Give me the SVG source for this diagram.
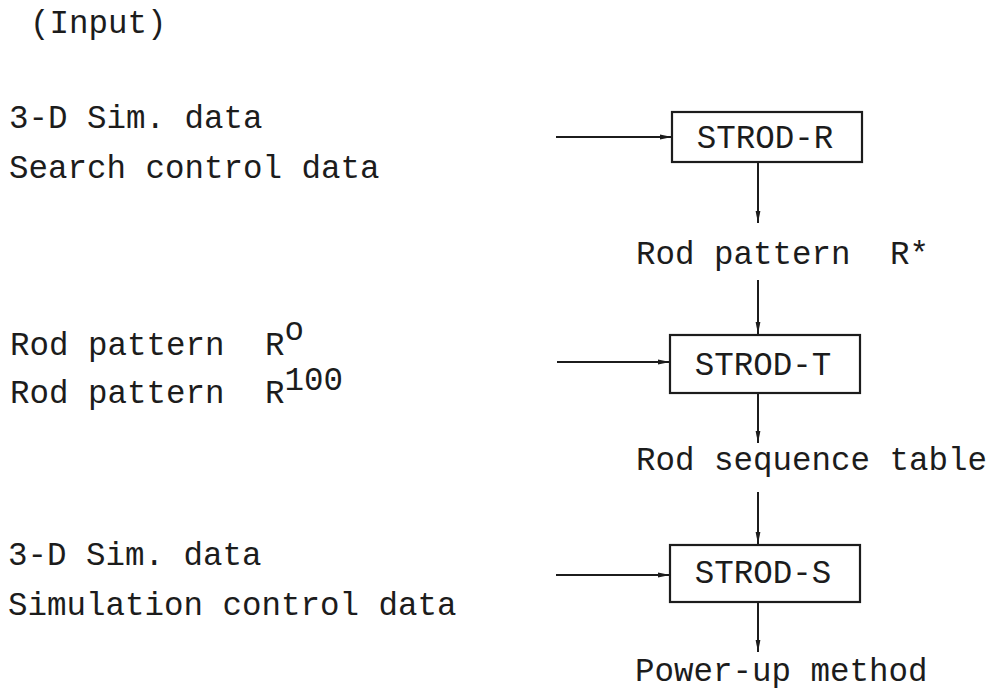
<svg xmlns="http://www.w3.org/2000/svg" width="992" height="690" viewBox="0 0 992 690">
  <defs>
    <style>
      text { font-family: "Liberation Mono", "Courier New", monospace; font-size: 32.5px; fill: #1c1c1c; }
      .box { fill: none; stroke: #1c1c1c; stroke-width: 2.2; }
      .flow { fill: none; stroke: #1c1c1c; stroke-width: 2; marker-end: url(#tip); }
      .lbl { text-anchor: middle; }
    </style>
    <marker id="tip" viewBox="0 0 12 6" refX="12" refY="3" markerWidth="12" markerHeight="6" markerUnits="userSpaceOnUse" orient="auto">
      <path d="M0,0.6 L12,3 L0,5.4 z" fill="#1c1c1c"/>
    </marker>
  </defs>
  <rect width="992" height="690" fill="#ffffff"/>

  <!-- input lists on the left -->
  <g id="input-heading">
    <text x="30" y="33">(Input)</text>
  </g>
  <g id="input-strod-r">
    <text x="9" y="128">3-D Sim. data</text>
    <text x="9" y="178">Search control data</text>
  </g>
  <g id="input-strod-t">
    <text x="10" y="355">Rod pattern<tspan x="265">R</tspan><tspan dy="-15">o</tspan></text>
    <text x="10" y="403">Rod pattern<tspan x="265">R</tspan><tspan dy="-13">100</tspan></text>
  </g>
  <g id="input-strod-s">
    <text x="8" y="565">3-D Sim. data</text>
    <text x="8" y="615">Simulation control data</text>
  </g>

  <!-- program blocks -->
  <g id="strod-r">
    <rect class="box" x="672" y="112" width="190" height="50"/>
    <text class="lbl" x="765" y="148">STROD-R</text>
  </g>
  <g id="strod-t">
    <rect class="box" x="670" y="335" width="190" height="58"/>
    <text class="lbl" x="763" y="375">STROD-T</text>
  </g>
  <g id="strod-s">
    <rect class="box" x="670" y="545" width="190" height="57"/>
    <text class="lbl" x="763" y="583">STROD-S</text>
  </g>

  <!-- intermediate results -->
  <g id="rod-pattern-star">
    <text x="636" y="264">Rod pattern<tspan x="890">R*</tspan></text>
  </g>
  <g id="rod-sequence-table">
    <text x="636" y="470">Rod sequence table</text>
  </g>
  <g id="power-up-method">
    <text x="635" y="681">Power-up method</text>
  </g>

  <!-- connectors -->
  <g id="connectors">
    <path class="flow" d="M556,137 L672,137"/>
    <path class="flow" d="M758,163 L758,223"/>
    <path class="flow" d="M758,280 L758,334"/>
    <path class="flow" d="M557,362 L670,362"/>
    <path class="flow" d="M758,394 L758,443"/>
    <path class="flow" d="M758,492 L758,544"/>
    <path class="flow" d="M556,575 L670,575"/>
    <path class="flow" d="M758,603 L758,652"/>
  </g>
</svg>
